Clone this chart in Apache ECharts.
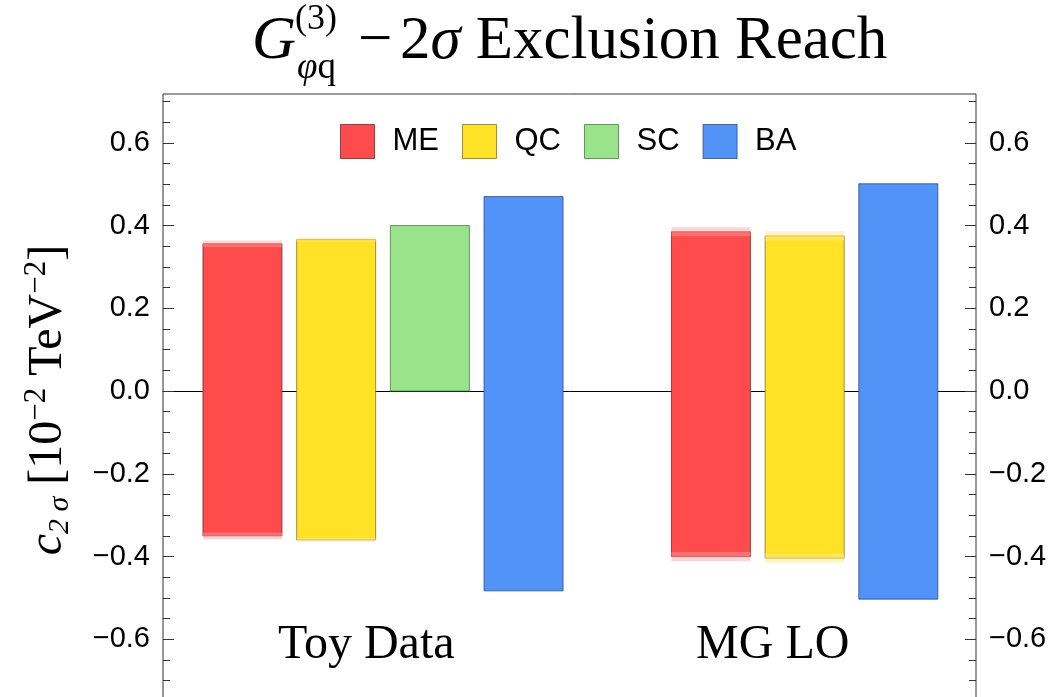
<!DOCTYPE html>
<html>
<head>
<meta charset="utf-8">
<script src="https://cdn.jsdelivr.net/npm/echarts@6/dist/echarts.min.js"></script>
<style>
  html, body { margin: 0; padding: 0; background: #fff; }
  #chart { width: 1056px; height: 697px; }
</style>
</head>
<body>
<div id="chart"></div>
<script>
// Categories (data sets) and methods
const categories = ['Toy Data', 'MG LO'];
const seriesNames = ['ME', 'QC', 'SC', 'BA'];

// 2σ exclusion limits per category: lower / upper edge, and half-width of the uncertainty band
const meLow  = [-0.350, -0.400];
const meHigh = [0.356, 0.385];
const meBand = [0.008, 0.011];

const qcLow  = [-0.360, -0.404];
const qcHigh = [0.366, 0.375];
const qcBand = [0.005, 0.011];

const scLow  = [0.0, null];
const scHigh = [0.400, null];
const scBand = [0, 0];

const baLow  = [-0.483, -0.503];
const baHigh = [0.470, 0.501];
const baBand = [0, 0];

// Axis ticks
const yTicks = [-0.6, -0.4, -0.2, 0.0, 0.2, 0.4, 0.6];
const yMinorTicks = [-0.7, -0.65, -0.55, -0.5, -0.45, -0.35, -0.3, -0.25, -0.15, -0.1, -0.05,
                     0.05, 0.1, 0.15, 0.25, 0.3, 0.35, 0.45, 0.5, 0.55, 0.65, 0.7];

// Styling
const fills   = ['#ff4b4b', '#ffe226', '#99e38b', '#5293f8'];
const borders = ['rgba(120,30,30,0.75)', 'rgba(130,110,20,0.75)', 'rgba(70,120,60,0.75)', 'rgba(40,70,130,0.75)'];
const bands   = ['rgba(255,160,160,0.45)', 'rgba(255,236,140,0.5)', 'rgba(180,240,170,0.5)', 'rgba(160,200,255,0.5)'];

const Y_MIN = -0.742, Y_MAX = 0.718;
const X_MIN = -0.848, X_MAX = 7.829;
const BAR_HALF = 0.4216;

const lows  = [meLow, qcLow, scLow, baLow];
const highs = [meHigh, qcHigh, scHigh, baHigh];
const halfBands = [meBand, qcBand, scBand, baBand];

// Bars of one data set sit side by side; one empty slot separates the data sets
const seriesData = seriesNames.map(() => []);
let slot = 0;
categories.forEach((cat, ci) => {
  seriesNames.forEach((name, si) => {
    if (highs[si][ci] == null) return;
    seriesData[si].push([slot, lows[si][ci], highs[si][ci], halfBands[si][ci]]);
    slot++;
  });
  slot++;
});

function makeRenderer(si) {
  return function (params, api) {
    const x = api.value(0), lo = api.value(1), hi = api.value(2), band = api.value(3);
    const a = api.coord([x - BAR_HALF, hi]);
    const b = api.coord([x + BAR_HALF, lo]);
    const children = [{
      type: 'rect',
      shape: { x: a[0], y: a[1], width: b[0] - a[0], height: b[1] - a[1] },
      style: { fill: fills[si], stroke: borders[si], lineWidth: 1 }
    }];
    if (band > 0) {
      [hi, lo].forEach(edge => {
        const p = api.coord([x - BAR_HALF, edge + band]);
        const q = api.coord([x + BAR_HALF, edge - band]);
        children.push({
          type: 'rect',
          shape: { x: p[0], y: p[1], width: q[0] - p[0], height: q[1] - p[1] },
          style: { fill: bands[si] }
        });
      });
    }
    return { type: 'group', children };
  };
}

const tickFormatter = v => (v < 0 ? '\u2212' + Math.abs(v).toFixed(1) : v.toFixed(1));
const sans = "'Liberation Sans', Arial, sans-serif";
const serif = "'Liberation Serif', 'Times New Roman', serif";

function yAxisPair(position) {
  const base = {
    type: 'value', min: Y_MIN, max: Y_MAX, position,
    axisLine: { show: false, onZero: false },
    splitLine: { show: false }
  };
  return [
    Object.assign({}, base, {
      axisTick: { show: true, inside: true, length: 11, customValues: yTicks,
                  lineStyle: { color: '#333', width: 1 } },
      axisLabel: { show: true, customValues: yTicks, formatter: tickFormatter, margin: 13,
                   fontFamily: sans, fontSize: 29, color: '#000' }
    }),
    Object.assign({}, base, {
      axisTick: { show: true, inside: true, length: 7, customValues: yMinorTicks,
                  lineStyle: { color: '#333', width: 1 } },
      axisLabel: { show: false }
    })
  ];
}

const chart = echarts.init(document.getElementById('chart'), null, { renderer: 'canvas' });

const option = {
  animation: false,
  backgroundColor: '#fff',
  grid: {
    left: 163, right: 80, top: 94, bottom: -1,
    show: true, borderColor: '#333', borderWidth: 1,
    containLabel: false, outerBoundsMode: 'none'
  },
  legend: {
    top: 119, left: 335,
    itemWidth: 34, itemHeight: 34, itemGap: 23,
    icon: 'rect',
    selectedMode: false,
    textStyle: { fontFamily: sans, fontSize: 31, color: '#000', padding: [0, 0, 0, 13] },
    data: seriesNames.map((name, i) => ({
      name,
      itemStyle: { color: fills[i], borderColor: borders[i], borderWidth: 1 }
    }))
  },
  xAxis: [
    {
      type: 'value', min: X_MIN, max: X_MAX, position: 'bottom',
      axisLine: { show: true, onZero: true, lineStyle: { color: '#000', width: 1 } },
      axisTick: { show: false }, axisLabel: { show: false }, splitLine: { show: false }
    },
    {
      type: 'category', data: categories, position: 'bottom',
      axisLine: { show: false, onZero: false }, axisTick: { show: false },
      splitLine: { show: false },
      axisLabel: { inside: true, margin: 29, fontFamily: serif, fontSize: 48, color: '#000' }
    }
  ],
  yAxis: [].concat(yAxisPair('left'), yAxisPair('right')),
  series: seriesNames.map((name, si) => ({
    name,
    type: 'custom',
    xAxisIndex: 0,
    yAxisIndex: 0,
    itemStyle: { color: fills[si] },
    renderItem: makeRenderer(si),
    encode: { x: 0, y: [1, 2] },
    data: seriesData[si]
  })),
  graphic: [
    // Title: G^(3)_{φq} − 2σ Exclusion Reach
    { type: 'text', x: 252, y: 42,
      style: { text: 'G', fontFamily: serif, fontSize: 61, fontStyle: 'italic', fill: '#000',
               align: 'left', verticalAlign: 'middle' } },
    { type: 'text', x: 295, y: 20,
      style: { text: '(3)', fontFamily: serif, fontSize: 36, fill: '#000',
               align: 'left', verticalAlign: 'middle' } },
    { type: 'text', x: 297, y: 68,
      style: { text: '{i|\u03c6}{n|q}', fill: '#000', align: 'left', verticalAlign: 'middle',
               rich: {
                 i: { fontFamily: serif, fontSize: 37, fontStyle: 'italic', fill: '#000' },
                 n: { fontFamily: serif, fontSize: 37, fill: '#000' }
               } } },
    { type: 'text', x: 358, y: 42,
      style: { text: '{n|\u2212}{g| }{n|2}{i|\u03c3}{n| Exclusion Reach}', fill: '#000',
               align: 'left', verticalAlign: 'middle',
               rich: {
                 n: { fontFamily: serif, fontSize: 61, fill: '#000' },
                 i: { fontFamily: serif, fontSize: 61, fontStyle: 'italic', fill: '#000' },
                 g: { fontFamily: serif, fontSize: 30, fill: '#000' }
               } } },
    // Y-axis title: c_{2σ} [10^{-2} TeV^{-2}]
    { type: 'text', x: 48, y: 400, rotation: Math.PI / 2,
      style: {
        text: '{c|c}{sub|2 \u03c3}{n| [10}{sup|\u22122}{n| TeV}{sup|\u22122}{n|]}',
        align: 'center', verticalAlign: 'middle', fill: '#000',
        rich: {
          c:   { fontFamily: serif, fontSize: 48, fontStyle: 'italic', lineHeight: 54, fill: '#000' },
          n:   { fontFamily: serif, fontSize: 48, lineHeight: 54, fill: '#000' },
          sub: { fontFamily: serif, fontSize: 30, fontStyle: 'italic', lineHeight: 30, verticalAlign: 'bottom', fill: '#000' },
          sup: { fontFamily: serif, fontSize: 31, lineHeight: 31, verticalAlign: 'top', fill: '#000' }
        }
      } }
  ]
};

chart.setOption(option);
</script>
</body>
</html>
